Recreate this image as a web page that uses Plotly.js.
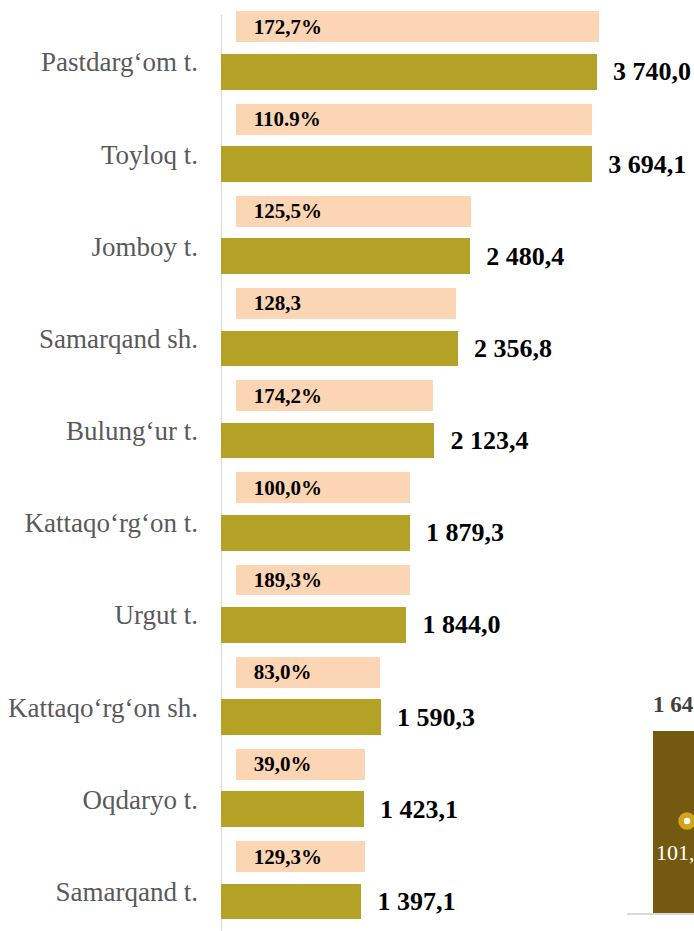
<!DOCTYPE html>
<html>
<head>
<meta charset="utf-8">
<script src="https://cdn.plot.ly/plotly-3.0.1.min.js"></script>
<style>html,body{margin:0;padding:0;background:#fff;}#chart{width:694px;height:931px;}</style>
</head>
<body>
<div id="chart"></div>
<script>
// ---- data ----
const categories = ["Pastdarg‘om t.", "Toyloq t.", "Jomboy t.", "Samarqand sh.", "Bulung‘ur t.",
  "Kattaqo‘rg‘on t.", "Urgut t.", "Kattaqo‘rg‘on sh.", "Oqdaryo t.", "Samarqand t."];
const values = [3740.0, 3694.1, 2480.4, 2356.8, 2123.4, 1879.3, 1844.0, 1590.3, 1423.1, 1397.1];
const growthLabels = ["172,7%", "110.9%", "125,5%", "128,3", "174,2%", "100,0%", "189,3%", "83,0%", "39,0%", "129,3%"];
const growthBarEnds = [3760, 3690, 2487, 2337, 2109, 1880, 1880, 1582, 1432, 1432];
// fragment of neighbouring chart (bottom right)
const fragCategories = [0];
const fragValues = [1645.0];
const fragRates = [101.4];

// ---- helpers ----
function fmt(v) {
  const parts = v.toFixed(1).split(".");
  const intPart = parts[0].replace(/\B(?=(\d{3})+(?!\d))/g, " ");
  return intPart + "," + parts[1];
}
const SERIF = '"Liberation Serif", "Times New Roman", serif';
const PEACH_BASE = 149;
const idx = categories.map((c, i) => i);

const traces = [
  {
    type: "bar", orientation: "h",
    y: idx, x: growthBarEnds.map(v => v - PEACH_BASE),
    base: PEACH_BASE,
    width: 0.336, offset: -0.548,
    marker: {color: "#fcd5b4"},
    text: growthLabels.map(t => "\u2002\u2009" + t),
    textposition: "inside", insidetextanchor: "start",
    constraintext: "none",
    textfont: {family: SERIF, size: 21, color: "#000", weight: "bold"},
    hoverinfo: "skip", cliponaxis: false,
    xaxis: "x", yaxis: "y"
  },
  {
    type: "bar", orientation: "h",
    y: idx, x: values,
    width: 0.386, offset: -0.0857,
    marker: {color: "#b3a226"},
    text: values.map(v => "\u2002" + fmt(v)),
    textposition: "outside", constraintext: "none",
    textfont: {family: SERIF, size: 26, color: "#000", weight: "bold"},
    cliponaxis: false, hoverinfo: "skip",
    xaxis: "x", yaxis: "y"
  },
  {
    type: "bar",
    x: fragCategories, y: fragValues,
    width: 0.6,
    marker: {color: "#745a10"},
    hoverinfo: "skip",
    xaxis: "x2", yaxis: "y2"
  },
  {
    type: "scatter", mode: "markers",
    x: fragCategories, y: fragRates,
    marker: {size: 12, color: "#ffffff", line: {color: "#d4a51c", width: 5.5}},
    cliponaxis: false, hoverinfo: "skip",
    xaxis: "x2", yaxis: "y3"
  }
];

const layout = {
  width: 694, height: 931,
  margin: {l: 221, r: 0, t: 0, b: 0},
  paper_bgcolor: "#ffffff", plot_bgcolor: "rgba(0,0,0,0)",
  showlegend: false,
  bargap: 0,
  xaxis: {domain: [0, 1], range: [0, 4705], showgrid: false, zeroline: false,
          showticklabels: false, showline: false, fixedrange: true},
  yaxis: {domain: [0, 1], range: [9.428, -0.6727], tickmode: "array",
          tickvals: idx, ticktext: categories, ticks: "", showgrid: false, zeroline: false,
          showline: false, ticklabelstandoff: 22,
          tickfont: {family: SERIF, size: 27, color: "#595959"}},
  xaxis2: {domain: [(627 - 221) / 473, 1], range: [-0.526, 0.061], anchor: "y2",
           showgrid: false, zeroline: false, showticklabels: false,
           showline: true, linecolor: "#d9d9d9", linewidth: 1.5},
  yaxis2: {domain: [18 / 931, 1], range: [0, 8252], anchor: "x2",
           showgrid: false, zeroline: false, showticklabels: false, showline: false},
  yaxis3: {domain: [18 / 931, 1], range: [0, 1006], overlaying: "y2", anchor: "x2",
           showgrid: false, zeroline: false, showticklabels: false, showline: false},
  annotations: fragValues.map((v, i) => ({
    x: fragCategories[i], y: v, xref: "x2", yref: "y2",
    text: "<b>" + fmt(v) + "</b>", showarrow: false,
    yanchor: "bottom", yshift: 12,
    font: {family: SERIF, size: 23, color: "#404040"}
  })).concat(fragRates.map((v, i) => ({
    x: fragCategories[i], y: v, xref: "x2", yref: "y3",
    text: v.toFixed(1).replace(".", ","), showarrow: false,
    yanchor: "middle", yshift: -32, xshift: -6,
    font: {family: SERIF, size: 22, color: "#ffffff"}
  }))),
  shapes: [{
    type: "line", xref: "x", yref: "paper",
    x0: 0, x1: 0, y0: 0, y1: 1 - 15 / 931,
    line: {color: "#d9d9d9", width: 2}, layer: "below"
  }]
};

Plotly.newPlot("chart", traces, layout, {displayModeBar: false, staticPlot: true});
</script>
</body>
</html>
